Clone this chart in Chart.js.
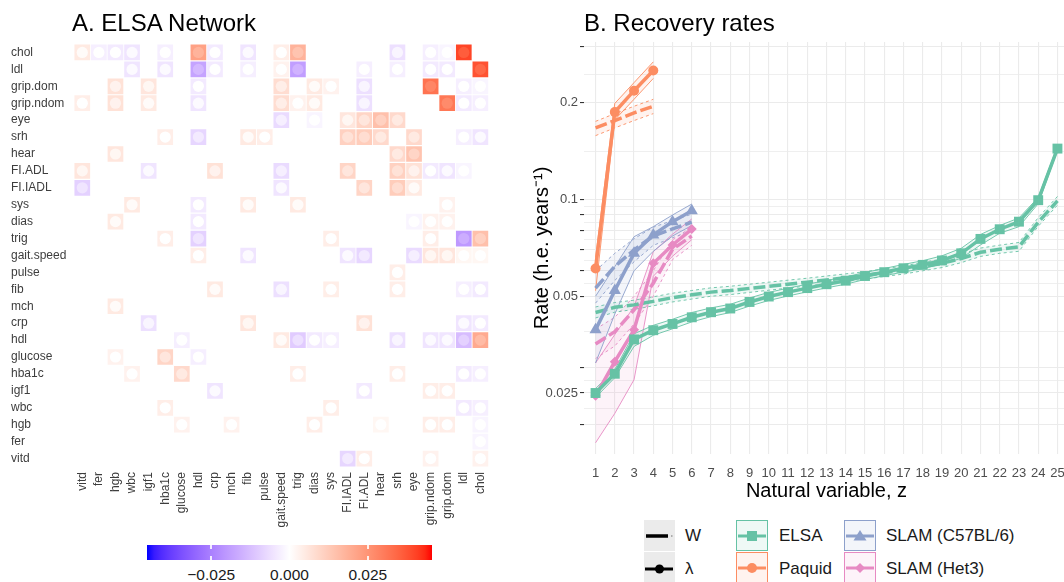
<!DOCTYPE html>
<html>
<head>
<meta charset="utf-8">
<script src="https://cdn.jsdelivr.net/npm/chart.js@4.4.0/dist/chart.umd.min.js"></script>
<style>
  body { margin: 0; width: 1064px; height: 582px; overflow: hidden; background: #fff; position: relative;
         font-family: "Liberation Sans", Arial, sans-serif; }
  .abs { position: absolute; }
  .title { font-size: 24px; line-height: 24px; color: #000; white-space: nowrap; }
  .cbl { font-size: 15.5px; line-height: 16px; color: #1a1a1a; width: 80px; text-align: center; }
  .lg { font-size: 17px; line-height: 20px; color: #1a1a1a; white-space: nowrap; }
</style>
</head>
<body>
<canvas id="net" class="abs" style="left:0;top:0" width="500" height="535"></canvas>
<canvas id="rates" class="abs" style="left:520px;top:0" width="560" height="510"></canvas>
<div class="abs title" style="left:72px;top:11px">A. ELSA Network</div>
<div class="abs title" style="left:584px;top:11px">B. Recovery rates</div>

<div id="cbar" class="abs" style="left:147px;top:545px;width:285px;height:15px"></div>
<div id="cbarLabels"></div>

<svg class="abs" style="left:640px;top:515px" width="424" height="67" id="legendKeys"></svg>
<div class="abs lg" style="left:685px;top:526px">W</div>
<div class="abs lg" style="left:685px;top:559px">λ</div>
<div class="abs lg" style="left:779px;top:526px">ELSA</div>
<div class="abs lg" style="left:779px;top:559px">Paquid</div>
<div class="abs lg" style="left:886px;top:526px">SLAM (C57BL/6)</div>
<div class="abs lg" style="left:886px;top:559px">SLAM (Het3)</div>

<script>
// ---------- panel A data ----------
const netVars = ["vitd", "fer", "hgb", "wbc", "igf1", "hba1c", "glucose", "hdl", "crp", "mch", "fib", "pulse",
  "gait.speed", "trig", "dias", "sys", "FI.IADL", "FI.ADL", "hear", "srh", "eye", "grip.ndom", "grip.dom", "ldl", "chol"];
const netRows = netVars.slice().reverse();
const colourTicks = [-0.025, 0, 0.025];
const colourLimit = 0.0455;

// row, column, value
const netEdges = [
  ["chol","vitd",0.005],["chol","fer",-0.003],["chol","hgb",-0.004],["chol","wbc",-0.005],["chol","hba1c",-0.003],
  ["chol","hdl",0.022],["chol","crp",-0.004],["chol","fib",-0.005],["chol","gait.speed",0.004],["chol","trig",0.018],
  ["chol","srh",-0.006],["chol","grip.ndom",-0.003],["chol","grip.dom",-0.002],["chol","ldl",0.040],
  ["ldl","wbc",-0.005],["ldl","hba1c",-0.005],["ldl","hdl",-0.018],["ldl","crp",-0.004],["ldl","fib",-0.003],
  ["ldl","gait.speed",0.003],["ldl","trig",-0.019],["ldl","FI.ADL",-0.003],["ldl","srh",-0.003],["ldl","grip.ndom",-0.004],
  ["ldl","grip.dom",-0.004],["ldl","chol",0.038],
  ["grip.dom","hgb",0.007],["grip.dom","igf1",0.006],["grip.dom","hdl",-0.004],["grip.dom","gait.speed",0.008],
  ["grip.dom","dias",0.005],["grip.dom","sys",0.003],["grip.dom","FI.ADL",-0.006],["grip.dom","grip.ndom",0.032],
  ["grip.dom","ldl",-0.003],["grip.dom","chol",-0.002],
  ["grip.ndom","vitd",0.004],["grip.ndom","hgb",0.007],["grip.ndom","igf1",0.005],["grip.ndom","hdl",-0.005],
  ["grip.ndom","gait.speed",0.008],["grip.ndom","trig",0.003],["grip.ndom","dias",0.005],["grip.ndom","FI.ADL",-0.006],
  ["grip.ndom","grip.dom",0.031],["grip.ndom","ldl",-0.004],["grip.ndom","chol",-0.003],
  ["eye","gait.speed",-0.007],["eye","dias",-0.002],["eye","FI.IADL",0.006],["eye","FI.ADL",0.010],["eye","hear",0.015],["eye","srh",0.009],
  ["srh","hba1c",0.004],["srh","hdl",-0.008],["srh","fib",0.005],["srh","pulse",0.004],["srh","FI.IADL",0.011],
  ["srh","FI.ADL",0.012],["srh","hear",0.009],["srh","eye",0.009],["srh","ldl",-0.003],["srh","chol",-0.005],
  ["hear","hgb",0.006],["hear","srh",0.009],["hear","eye",0.014],
  ["FI.ADL","vitd",0.006],["FI.ADL","igf1",-0.005],["FI.ADL","crp",0.007],["FI.ADL","gait.speed",-0.007],
  ["FI.ADL","FI.IADL",0.010],["FI.ADL","srh",0.011],["FI.ADL","eye",0.007],["FI.ADL","grip.ndom",-0.004],
  ["FI.ADL","grip.dom",-0.005],["FI.ADL","ldl",-0.002],
  ["FI.IADL","vitd",-0.009],["FI.IADL","gait.speed",-0.005],["FI.IADL","FI.ADL",0.010],["FI.IADL","srh",0.012],["FI.IADL","eye",0.005],
  ["sys","wbc",0.005],["sys","hdl",-0.004],["sys","fib",0.005],["sys","trig",0.005],["sys","grip.dom",0.003],
  ["dias","hgb",0.005],["dias","hdl",-0.004],["dias","eye",-0.002],["dias","grip.ndom",0.003],["dias","grip.dom",0.003],
  ["trig","hba1c",0.004],["trig","hdl",-0.009],["trig","sys",0.004],["trig","grip.ndom",0.004],["trig","ldl",-0.020],["trig","chol",0.015],
  ["gait.speed","hdl",0.004],["gait.speed","fib",-0.005],["gait.speed","FI.IADL",-0.005],["gait.speed","FI.ADL",-0.008],
  ["gait.speed","eye",-0.007],["gait.speed","grip.ndom",0.006],["gait.speed","grip.dom",0.006],["gait.speed","ldl",0.002],["gait.speed","chol",0.002],
  ["pulse","srh",0.004],
  ["fib","crp",0.005],["fib","gait.speed",-0.006],["fib","sys",0.004],["fib","srh",0.004],["fib","ldl",-0.003],["fib","chol",-0.004],
  ["mch","hgb",0.005],
  ["crp","igf1",-0.006],["crp","fib",0.006],["crp","FI.ADL",0.007],["crp","ldl",-0.005],["crp","chol",-0.004],
  ["hdl","glucose",-0.003],["hdl","gait.speed",0.005],["hdl","trig",-0.010],["hdl","dias",-0.004],["hdl","sys",-0.003],
  ["hdl","srh",-0.006],["hdl","grip.ndom",-0.005],["hdl","grip.dom",-0.005],["hdl","ldl",-0.013],["hdl","chol",0.020],
  ["glucose","hgb",0.003],["glucose","hba1c",0.010],["glucose","hdl",-0.003],
  ["hba1c","wbc",0.003],["hba1c","glucose",0.009],["hba1c","trig",0.004],["hba1c","srh",0.004],["hba1c","ldl",-0.004],["hba1c","chol",-0.003],
  ["igf1","crp",-0.005],["igf1","FI.ADL",-0.004],["igf1","grip.ndom",0.004],["igf1","grip.dom",0.004],
  ["wbc","hba1c",0.004],["wbc","sys",0.004],["wbc","ldl",-0.004],["wbc","chol",-0.003],
  ["hgb","glucose",0.003],["hgb","mch",0.003],["hgb","dias",0.004],["hgb","hear",0.002],["hgb","grip.ndom",0.004],
  ["hgb","grip.dom",0.004],["hgb","chol",-0.002],
  ["fer","chol",-0.002],
  ["vitd","FI.IADL",-0.008],["vitd","FI.ADL",0.004],["vitd","grip.ndom",0.003],["vitd","chol",0.003]
];

// ---------- panel B data ----------
const zVals = [1,2,3,4,5,6,7,8,9,10,11,12,13,14,15,16,17,18,19,20,21,22,23,24,25];
const yBreaks = [0.02, 0.025, 0.03, 0.05, 0.06, 0.07, 0.08, 0.09, 0.1, 0.2, 0.3];
const yLabelled = [0.025, 0.05, 0.1, 0.2];

const elsaLam   = [0.0250,0.0287,0.0367,0.0392,0.0410,0.0430,0.0446,0.0458,0.0480,0.0499,0.0515,0.0530,0.0545,0.0559,0.0578,0.0594,0.0611,0.0626,0.0646,0.0680,0.0754,0.0808,0.0853,0.0995,0.1440];
const elsaLamLo = [0.0242,0.0279,0.0349,0.0378,0.0396,0.0416,0.0432,0.0445,0.0466,0.0485,0.0501,0.0516,0.0531,0.0545,0.0564,0.0579,0.0595,0.0609,0.0630,0.0656,0.0722,0.0785,0.0823,0.0970,0.1420];
const elsaLamHi = [0.0258,0.0296,0.0382,0.0406,0.0424,0.0445,0.0460,0.0472,0.0494,0.0514,0.0530,0.0545,0.0560,0.0574,0.0593,0.0610,0.0628,0.0645,0.0668,0.0705,0.0778,0.0830,0.0876,0.1015,0.1465];
const elsaW     = [0.0445,0.0462,0.0470,0.0482,0.0495,0.0505,0.0515,0.0521,0.0529,0.0537,0.0545,0.0553,0.0562,0.0571,0.0580,0.0592,0.0603,0.0618,0.0633,0.0655,0.0685,0.0700,0.0712,0.0850,0.0990];
const elsaWLo   = [0.0428,0.0446,0.0455,0.0467,0.0480,0.0490,0.0500,0.0506,0.0514,0.0522,0.0530,0.0538,0.0547,0.0556,0.0565,0.0576,0.0586,0.0600,0.0614,0.0636,0.0665,0.0680,0.0690,0.0825,0.0960];
const elsaWHi   = [0.0463,0.0478,0.0486,0.0498,0.0511,0.0521,0.0531,0.0537,0.0545,0.0553,0.0561,0.0569,0.0578,0.0587,0.0596,0.0609,0.0621,0.0637,0.0653,0.0676,0.0706,0.0721,0.0735,0.0878,0.1022];

const paquidLam   = [0.061, 0.187, 0.218, 0.252];
const paquidLamLo = [0.052, 0.177, 0.205, 0.238];
const paquidLamHi = [0.066, 0.199, 0.231, 0.268];
const paquidW     = [0.167, 0.176, 0.186, 0.195];
const paquidWLo   = [0.158, 0.167, 0.176, 0.185];
const paquidWHi   = [0.175, 0.185, 0.195, 0.205];

const c57Lam   = [0.0393, 0.0521, 0.0680, 0.0776, 0.0853, 0.0923];
const c57LamLo = [0.0310, 0.0440, 0.0600, 0.0690, 0.0770, 0.0830];
const c57LamHi = [0.0500, 0.0618, 0.0766, 0.0823, 0.0895, 0.0968];
const c57W     = [0.0530, 0.0619, 0.0697, 0.0770, 0.0810, 0.0850];
const c57WLo   = [0.0476, 0.0560, 0.0640, 0.0720, 0.0760, 0.0800];
const c57WHi   = [0.0600, 0.0680, 0.0755, 0.0820, 0.0860, 0.0900];

const het3Lam   = [0.0245, 0.0313, 0.0393, 0.0633, 0.0722, 0.0809];
const het3LamLo = [0.0175, 0.0216, 0.0275, 0.0577, 0.0666, 0.0750];
const het3LamHi = [0.0310, 0.0380, 0.0464, 0.0688, 0.0780, 0.0870];
const het3W     = [0.0355, 0.0388, 0.0453, 0.0549, 0.0700, 0.0770];
const het3WLo   = [0.0320, 0.0350, 0.0410, 0.0500, 0.0650, 0.0720];
const het3WHi   = [0.0395, 0.0430, 0.0500, 0.0600, 0.0750, 0.0820];

// ---------- colour helpers (blue - white - red, interpolated in Lab) ----------
function toLin(c) { c /= 255; return c <= 0.04045 ? c / 12.92 : Math.pow((c + 0.055) / 1.055, 2.4); }
function fromLin(c) {
  c = c <= 0.0031308 ? 12.92 * c : 1.055 * Math.pow(c, 1 / 2.4) - 0.055;
  return Math.round(Math.max(0, Math.min(1, c)) * 255);
}
function rgb2lab(rgb) {
  const r = toLin(rgb[0]), g = toLin(rgb[1]), b = toLin(rgb[2]);
  const x = (r * 0.4124 + g * 0.3576 + b * 0.1805) / 0.95047;
  const y = r * 0.2126 + g * 0.7152 + b * 0.0722;
  const z = (r * 0.0193 + g * 0.1192 + b * 0.9505) / 1.08883;
  const f = t => t > 0.008856 ? Math.cbrt(t) : 7.787 * t + 16 / 116;
  return [116 * f(y) - 16, 500 * (f(x) - f(y)), 200 * (f(y) - f(z))];
}
function lab2rgb(lab) {
  const fy = (lab[0] + 16) / 116, fx = fy + lab[1] / 500, fz = fy - lab[2] / 200;
  const fi = t => t * t * t > 0.008856 ? t * t * t : (t - 16 / 116) / 7.787;
  const x = fi(fx) * 0.95047, y = fi(fy), z = fi(fz) * 1.08883;
  return [fromLin(x * 3.2406 - y * 1.5372 - z * 0.4986),
          fromLin(-x * 0.9689 + y * 1.8758 + z * 0.0415),
          fromLin(x * 0.0557 - y * 0.2040 + z * 1.0570)];
}
const labWhite = rgb2lab([255, 255, 255]), labBlue = rgb2lab([0, 0, 255]), labRed = rgb2lab([255, 0, 0]);
function fillColour(v) {
  let t = Math.max(-1, Math.min(1, v / colourLimit));
  const end = t < 0 ? labBlue : labRed;
  t = Math.abs(t);
  const c = lab2rgb(labWhite.map((w, i) => w + (end[i] - w) * t));
  return "rgb(" + c.join(",") + ")";
}
// inner dot is drawn a little paler than its tile
const dotTone = v => Math.sign(v) * Math.max(Math.abs(v) - 0.004, 0);

Chart.defaults.font.family = '"Liberation Sans", Arial, sans-serif';
Chart.defaults.animation = false;

// ---------- panel A: network heatmap ----------
const cellPts = netEdges.map(e => ({ x: e[1], y: e[0] }));
new Chart(document.getElementById("net"), {
  type: "scatter",
  data: {
    datasets: [
      { data: cellPts, pointStyle: "circle", pointRadius: 5.6, borderWidth: 0,
        backgroundColor: netEdges.map(e => fillColour(dotTone(e[2]))), order: 0 },
      { data: cellPts, pointStyle: "rect", pointRadius: 11.1, borderWidth: 0,
        backgroundColor: netEdges.map(e => fillColour(e[2])), order: 1 }
    ]
  },
  options: {
    responsive: false, devicePixelRatio: 1, events: [],
    layout: { padding: { left: 11, top: 44, right: 7.5, bottom: 0 } },
    plugins: { legend: { display: false }, tooltip: { enabled: false } },
    scales: {
      x: { type: "category", labels: netVars, offset: true,
           grid: { display: false, drawTicks: false }, border: { display: false },
           ticks: { autoSkip: false, minRotation: 90, maxRotation: 90, padding: 5,
                    font: { size: 12 }, color: "#3d3d3d" },
           afterFit: s => { s.height = 68; } },
      y: { type: "category", labels: netRows, offset: true,
           grid: { display: false, drawTicks: false }, border: { display: false },
           ticks: { autoSkip: false, crossAlign: "far", padding: 4, font: { size: 12 }, color: "#3d3d3d" },
           afterFit: s => { s.width = 63; } }
    }
  }
});

// colour bar
const cbar = document.getElementById("cbar");
const stops = [];
for (let i = 0; i <= 40; i++) {
  const v = -colourLimit + (2 * colourLimit) * i / 40;
  stops.push(fillColour(v) + " " + (i * 2.5) + "%");
}
cbar.style.background = "linear-gradient(to right," + stops.join(",") + ")";
const cbLabels = document.getElementById("cbarLabels");
colourTicks.forEach(v => {
  const px = (v + colourLimit) / (2 * colourLimit) * 285;
  ["top:0", "bottom:0"].forEach(p => {
    const m = document.createElement("div");
    m.className = "abs";
    m.style.cssText = "left:" + (px - 0.75) + "px;" + p + ";width:1.5px;height:4px;background:#fff;opacity:0.85";
    cbar.appendChild(m);
  });
  const lab = document.createElement("div");
  lab.className = "abs cbl";
  lab.style.left = (147 + px - 40) + "px";
  lab.style.top = "567px";
  lab.textContent = v === 0 ? "0.000" : (v < 0 ? "\u2212" : "") + Math.abs(v).toFixed(3);
  cbLabels.appendChild(lab);
});

// ---------- panel B: recovery rates ----------
const studies = [
  { col: "#66C2A5", shape: "rect", r: 7, lam: elsaLam, lamLo: elsaLamLo, lamHi: elsaLamHi, w: elsaW, wLo: elsaWLo, wHi: elsaWHi },
  { col: "#FC8D62", shape: "circle", r: 5, lam: paquidLam, lamLo: paquidLamLo, lamHi: paquidLamHi, w: paquidW, wLo: paquidWLo, wHi: paquidWHi },
  { col: "#8DA0CB", shape: "triangle", r: 7, lam: c57Lam, lamLo: c57LamLo, lamHi: c57LamHi, w: c57W, wLo: c57WLo, wHi: c57WHi },
  { col: "#E78AC3", shape: "rectRot", r: 5, lam: het3Lam, lamLo: het3LamLo, lamHi: het3LamHi, w: het3W, wLo: het3WLo, wHi: het3WHi }
];
function hexA(hex, a) {
  const n = parseInt(hex.slice(1), 16);
  return "rgba(" + (n >> 16) + "," + ((n >> 8) & 255) + "," + (n & 255) + "," + a + ")";
}
const pts = arr => arr.map((v, i) => ({ x: zVals[i], y: v }));
const rateSets = [];
studies.forEach(s => {
  const thin = { borderColor: s.col, borderWidth: 0.9, pointRadius: 0, tension: 0 };
  rateSets.push(Object.assign({ data: pts(s.wLo), borderDash: [3, 3], fill: false, order: 40 }, thin));
  rateSets.push(Object.assign({ data: pts(s.wHi), borderDash: [3, 3], fill: "-1",
    backgroundColor: hexA(s.col, 0.1), order: 40 }, thin));
  rateSets.push(Object.assign({ data: pts(s.lamLo), fill: false, order: 30 }, thin));
  rateSets.push(Object.assign({ data: pts(s.lamHi), fill: "-1",
    backgroundColor: hexA(s.col, 0.1), order: 30 }, thin));
  rateSets.push({ data: pts(s.w), borderColor: s.col, borderWidth: 3.5, borderDash: [12, 4],
    pointRadius: 0, fill: false, order: 10 });
  rateSets.push({ data: pts(s.lam), borderColor: s.col, borderWidth: 3.5, fill: false, order: 5,
    pointStyle: s.shape, pointRadius: s.r, pointBackgroundColor: s.col, pointBorderColor: s.col, pointBorderWidth: 0 });
});
const isBreak = v => yBreaks.some(b => Math.abs(b - v) / b < 1e-6);
const yGrid = [];
yBreaks.forEach((b, i) => {
  yGrid.push(b);
  if (i < yBreaks.length - 1) yGrid.push(Math.sqrt(b * yBreaks[i + 1]));
});

new Chart(document.getElementById("rates"), {
  type: "line",
  data: { datasets: rateSets },
  options: {
    responsive: false, devicePixelRatio: 1, events: [],
    layout: { padding: { left: 10, top: 42, right: 11, bottom: 7 } },
    plugins: { legend: { display: false }, tooltip: { enabled: false } },
    scales: {
      x: { type: "linear", min: 0.4, max: 25.6,
           afterBuildTicks: s => { s.ticks = zVals.map(v => ({ value: v })); },
           grid: { color: "#EBEBEB", lineWidth: 1.1, drawTicks: false }, border: { display: false },
           ticks: { autoSkip: false, maxRotation: 0, padding: 12, font: { size: 13 }, color: "#4D4D4D",
                    callback: v => String(v) },
           title: { display: true, text: "Natural variable, z", font: { size: 20 }, color: "#000", padding: 0 },
           afterFit: s => { s.height = 49; } },
      y: { type: "logarithmic", min: 0.01615, max: 0.309,
           afterBuildTicks: s => { s.ticks = yGrid.map(v => ({ value: v })); },
           grid: { color: "#EBEBEB", lineWidth: c => (c.tick && isBreak(c.tick.value)) ? 1.1 : 0.8,
                   tickLength: 4, tickColor: c => (c.tick && isBreak(c.tick.value)) ? "#333" : "rgba(0,0,0,0)" },
           border: { display: false },
           ticks: { autoSkip: false, padding: 2, font: { size: 13 }, color: "#4D4D4D",
                    callback: v => { const m = yLabelled.find(b => Math.abs(b - v) / b < 1e-6); return m === undefined ? "" : String(m); } },
           title: { display: true, text: "Rate (h.e. years\u207B\u00B9)", font: { size: 20 }, color: "#000", padding: 0 },
           afterFit: s => { s.width = 54; } }
    }
  }
});

// ---------- legend keys ----------
const svgNS = "http://www.w3.org/2000/svg";
const keys = document.getElementById("legendKeys");
function el(tag, attrs) {
  const e = document.createElementNS(svgNS, tag);
  for (const k in attrs) e.setAttribute(k, attrs[k]);
  keys.appendChild(e);
  return e;
}
el("rect", { x: 4, y: 5, width: 31, height: 31, fill: "#EBEBEB" });
el("rect", { x: 4, y: 37, width: 31, height: 31, fill: "#EBEBEB" });
el("line", { x1: 6, x2: 28, y1: 21, y2: 21, stroke: "#000", "stroke-width": 3.5 });
el("line", { x1: 31, x2: 32.5, y1: 21, y2: 21, stroke: "#999", "stroke-width": 1.5 });
el("line", { x1: 5, x2: 33, y1: 54, y2: 54, stroke: "#000", "stroke-width": 3 });
el("circle", { cx: 19.5, cy: 54, r: 4.5, fill: "#000" });
const keyBoxes = [[96, 5, 0], [96, 37, 1], [204, 5, 2], [204, 37, 3]];
keyBoxes.forEach(k => {
  const s = studies[k[2]], cx = k[0] + 16, cy = k[1] + 16;
  el("rect", { x: k[0] + 0.5, y: k[1] + 0.5, width: 31, height: 30, fill: hexA(s.col, 0.1), stroke: s.col, "stroke-width": 1 });
  el("line", { x1: k[0] + 2, x2: k[0] + 30, y1: cy, y2: cy, stroke: s.col, "stroke-width": 3 });
  if (s.shape === "rect") el("rect", { x: cx - 5, y: cy - 5, width: 10, height: 10, fill: s.col });
  if (s.shape === "circle") el("circle", { cx: cx, cy: cy, r: 5, fill: s.col });
  if (s.shape === "triangle") el("polygon", { points: [cx, cy - 6, cx + 6.5, cy + 4.5, cx - 6.5, cy + 4.5].join(" "), fill: s.col });
  if (s.shape === "rectRot") el("polygon", { points: [cx, cy - 5, cx + 5, cy, cx, cy + 5, cx - 5, cy].join(" "), fill: s.col });
});
</script>
</body>
</html>
